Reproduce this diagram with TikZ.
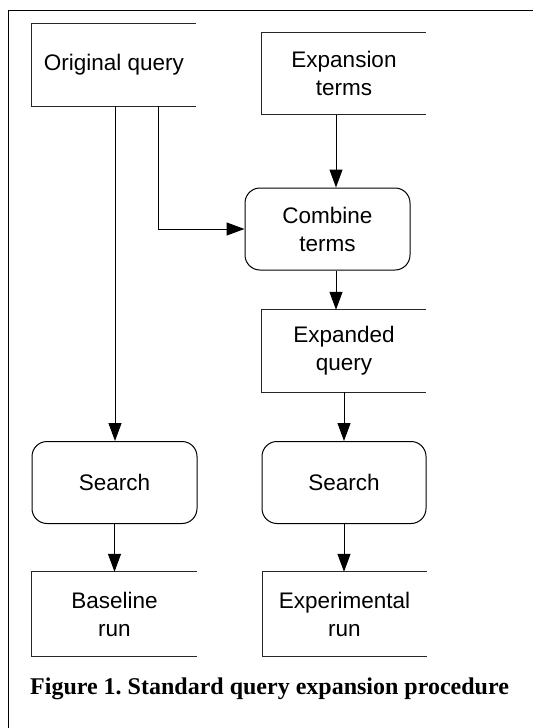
\documentclass[tikz,border=0pt]{standalone}
\usepackage{fontspec}
\setmainfont{Liberation Serif}
\newfontfamily\arialf{Liberation Sans}
\usetikzlibrary{arrows.meta}
\frenchspacing
\begin{document}
\begin{tikzpicture}[x=1pt,y=-1pt,
  lbl/.style={inner sep=0pt, align=center, font=\arialf\fontsize{22.5}{28}\selectfont},
  openbox/.style={lbl, minimum width=164pt, minimum height=82pt},
  roundbox/.style={lbl, draw, line width=1pt, rounded corners=15pt, minimum width=165pt, minimum height=82pt},
  side/.style={line width=1pt, draw=black!85},
  arr/.style={line width=1pt, -{Triangle[length=18pt,width=13pt]}}
]
\useasboundingbox (0,0) rectangle (533,728);
\fill[white] (0,0) rectangle (533,728);
% outer frame (left and top edges)
\draw[line width=1.8pt] (8.5,728) -- (8.5,10.5) -- (533,10.5);

\node[openbox] (oq) at (114,65) {Original query};
\node[openbox] (et) at (344,73.5) {Expansion\\terms};
\node[roundbox] (ct) at (327.5,229) {Combine\\terms};
\node[openbox] (eq) at (344,351) {Expanded\\query};
\node[roundbox] (s1) at (114.5,482.5) {Search};
\node[roundbox, minimum width=164pt] (s2) at (344,482.5) {Search};
\node[openbox, minimum width=165pt, minimum height=84pt] (br) at (114.5,614) {Baseline\\run};
\node[openbox, minimum height=84pt] (er) at (344.5,614) {Experimental\\run};

\foreach \n in {oq,et,eq,br,er}
  \draw[side] (\n.north east) -- (\n.north west) -- (\n.south west) -- (\n.south east);

\coordinate (oqa) at ([xshift=1pt]oq.south);
\coordinate (oqb) at ([xshift=44pt]oq.south);
\draw[arr] (oqa) -- (oqa |- s1.north);
\draw[arr] (oqb) |- (ct.west);
\draw[arr] ([xshift=-8pt]et.south) -- ([xshift=-8pt]et.south |- ct.north);
\draw[arr] ([xshift=8.5pt]ct.south) -- ([xshift=8.5pt]ct.south |- eq.north);
\draw[arr] (eq.south) -- (eq.south |- s2.north);
\draw[arr] (s1.south) -- (s1.south |- br.north);
\draw[arr] (s2.south) -- (s2.south |- er.north);

\node[anchor=base west, inner sep=0pt, font=\bfseries\fontsize{24}{28}\selectfont] (cap) at (30,694) {Figure 1. Standard query expansion procedure};
\end{tikzpicture}
\end{document}
